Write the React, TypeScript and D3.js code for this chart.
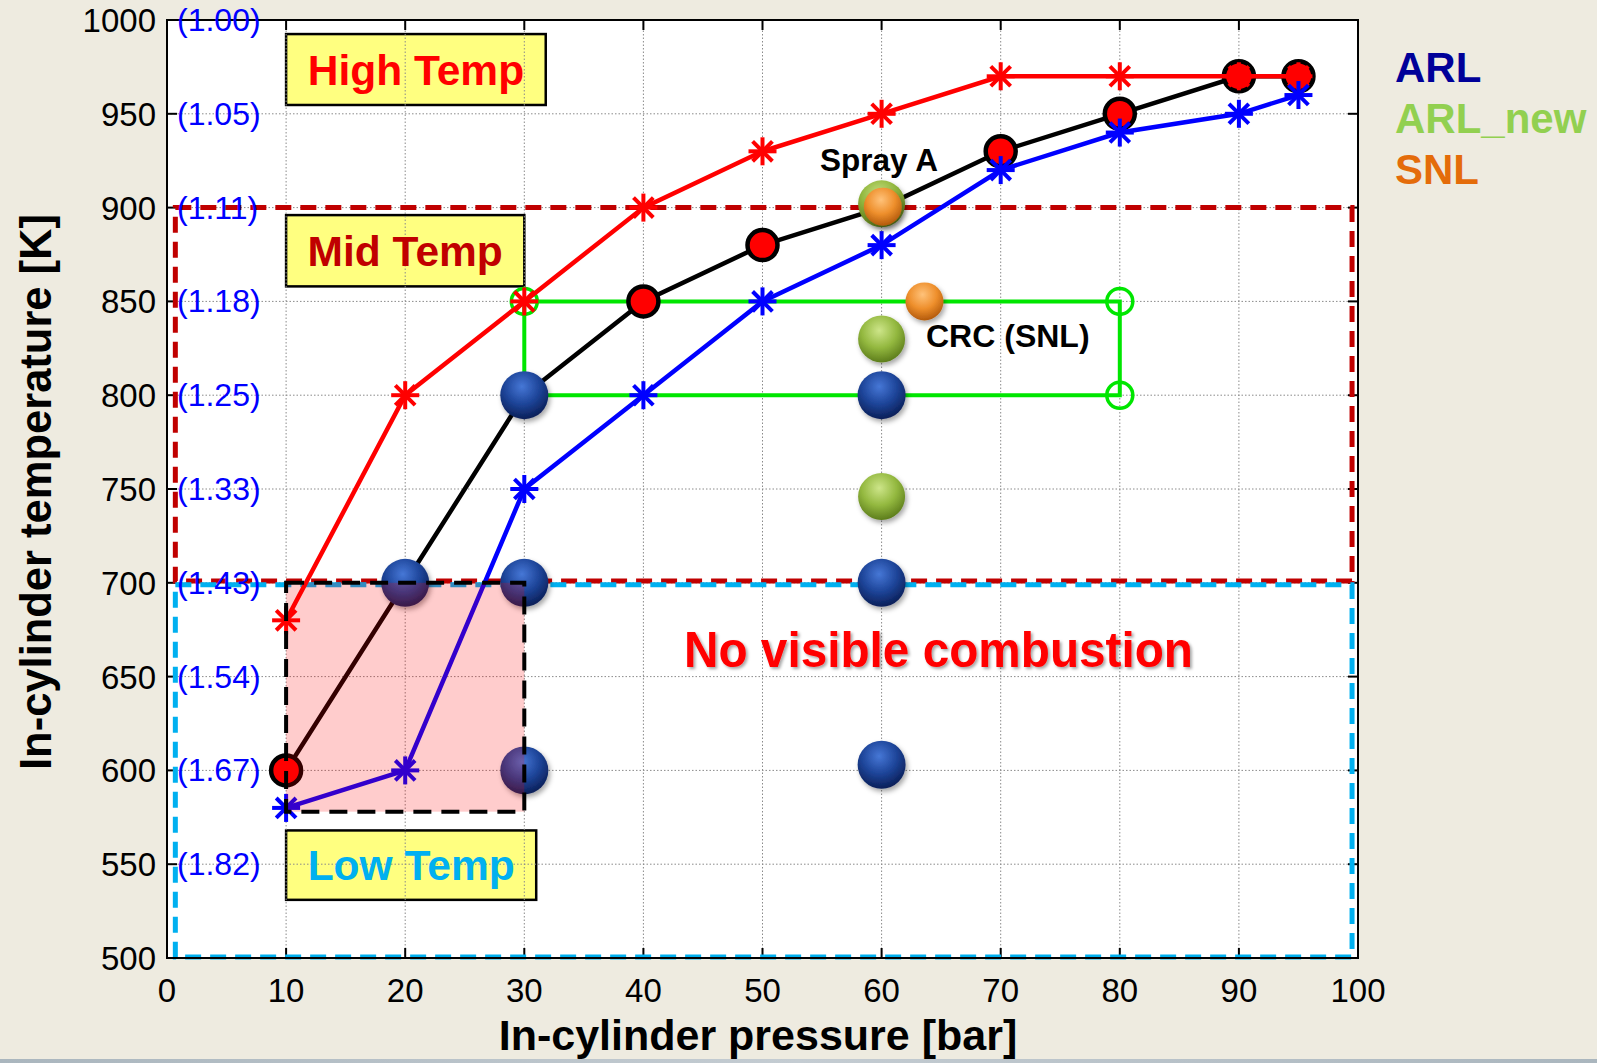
import React from 'react';
import * as d3 from 'd3';

// pressure [bar] for the three ignition-delay curves
const pressures = [10, 20, 30, 40, 50, 60, 70, 80, 90, 95];
const redTemps = [680, 800, 850, 900, 930, 950, 970, 970, 970, 970];
const blackTemps = [600, 700, 800, 850, 880, 900, 930, 950, 970, 970];
const blueTemps = [580, 600, 750, 800, 850, 880, 920, 940, 950, 960];

// measured points (spheres)
const arlPoints = [
  { p: 30, t: 800 }, { p: 60, t: 800 },
  { p: 20, t: 700 }, { p: 30, t: 700 }, { p: 60, t: 700 },
  { p: 30, t: 600 }, { p: 60, t: 603 },
];
const arlNewPoints = [{ p: 60, t: 902 }, { p: 60, t: 830 }, { p: 60, t: 746 }];
const snlPoints = [{ p: 60.1, t: 900.5 }, { p: 63.6, t: 850 }];

// CRC (SNL) range outline
const crcPath = [
  { p: 30, t: 850 }, { p: 80, t: 850 }, { p: 80, t: 800 }, { p: 30, t: 800 }, { p: 30, t: 850 },
];
const crcMarkers = [{ p: 30, t: 850 }, { p: 80, t: 850 }, { p: 80, t: 800 }];

const xTicks = [0, 10, 20, 30, 40, 50, 60, 70, 80, 90, 100];
const yTicks = [500, 550, 600, 650, 700, 750, 800, 850, 900, 950, 1000];
const phiLabels = ['', '(1.82)', '(1.67)', '(1.54)', '(1.43)', '(1.33)', '(1.25)', '(1.18)', '(1.11)', '(1.05)', '(1.00)'];

const regions = [
  { x0: 0.7, x1: 99.5, t0: 701, t1: 900, color: '#c00000' },
  { x0: 0.7, x1: 99.5, t0: 500.5, t1: 699, color: '#00b0f0' },
];

const tagBoxes = [
  { label: 'High Temp', x0: 10, x1: 31.8, t0: 954.7, t1: 992.5, color: '#ff0000' },
  { label: 'Mid Temp', x0: 10, x1: 30, t0: 858, t1: 896, color: '#c00000' },
  { label: 'Low Temp', x0: 10, x1: 31, t0: 531, t1: 568, color: '#00b0f0' },
];

const legendItems = [
  { label: 'ARL', color: '#000099' },
  { label: 'ARL_new', color: '#92d050' },
  { label: 'SNL', color: '#e46c0a' },
];

const W = 1597;
const H = 1063;
const margin = { left: 167, right: 1358, top: 20, bottom: 958 };
const FONT = '"Liberation Sans", Arial, sans-serif';

function Asterisk({ cx, cy, color }: { cx: number; cy: number; color: string }) {
  const r = 14;
  const d = r * Math.SQRT1_2;
  return (
    <g stroke={color} strokeWidth={4}>
      <line x1={cx - r} y1={cy} x2={cx + r} y2={cy} />
      <line x1={cx} y1={cy - r} x2={cx} y2={cy + r} />
      <line x1={cx - d} y1={cy - d} x2={cx + d} y2={cy + d} />
      <line x1={cx - d} y1={cy + d} x2={cx + d} y2={cy - d} />
    </g>
  );
}

export default function App() {
  const x = d3.scaleLinear().domain([0, 100]).range([margin.left, margin.right]);
  const y = d3.scaleLinear().domain([500, 1000]).range([margin.bottom, margin.top]);

  const line = d3.line<number>()
    .x((_, i) => x(pressures[i]))
    .y((d) => y(d));
  const pLine = d3.line<{ p: number; t: number }>()
    .x((d) => x(d.p))
    .y((d) => y(d.t));

  const ball = (d: { p: number; t: number }, r: number, grad: string, key: string) => (
    <circle key={key} cx={x(d.p)} cy={y(d.t)} r={r} fill={`url(#${grad})`} filter="url(#shadow)" />
  );

  return (
    <svg width={W} height={H} style={{ position: 'absolute', left: 0, top: 0, background: '#eeebe0' }}>
      <defs>
        <radialGradient id="gBlue" cx="45%" cy="32%" r="68%">
          <stop offset="0%" stopColor="#4677d6" />
          <stop offset="55%" stopColor="#1d4498" />
          <stop offset="100%" stopColor="#0b1f58" />
        </radialGradient>
        <radialGradient id="gGreen" cx="45%" cy="32%" r="68%">
          <stop offset="0%" stopColor="#cde589" />
          <stop offset="55%" stopColor="#93b83f" />
          <stop offset="100%" stopColor="#5d7d1c" />
        </radialGradient>
        <radialGradient id="gOrange" cx="45%" cy="32%" r="68%">
          <stop offset="0%" stopColor="#ffc27a" />
          <stop offset="55%" stopColor="#ee8f2c" />
          <stop offset="100%" stopColor="#b35a0c" />
        </radialGradient>
        <filter id="shadow" x="-50%" y="-50%" width="200%" height="200%">
          <feDropShadow dx="2" dy="3" stdDeviation="2.5" floodColor="#000" floodOpacity="0.35" />
        </filter>
        <filter id="textShadow" x="-10%" y="-30%" width="120%" height="160%">
          <feDropShadow dx="2" dy="2" stdDeviation="1.5" floodColor="#000" floodOpacity="0.35" />
        </filter>
        <linearGradient id="strip" x1="0" x2="1" y1="0" y2="0">
          <stop offset="0%" stopColor="#aab6be" />
          <stop offset="50%" stopColor="#c4ccd2" />
          <stop offset="100%" stopColor="#aab6be" />
        </linearGradient>
      </defs>

      <rect x={0} y={1059} width={W} height={4} fill="url(#strip)" />

      {/* plot background */}
      <rect x={margin.left} y={margin.top} width={margin.right - margin.left} height={margin.bottom - margin.top} fill="#fff" />

      {/* yellow tag boxes (gridlines show through) */}
      {tagBoxes.map((b) => (
        <rect key={b.label} x={x(b.x0)} y={y(b.t1)} width={x(b.x1) - x(b.x0)} height={y(b.t0) - y(b.t1)}
          fill="#ffff80" stroke="#000" strokeWidth={2.5} />
      ))}

      {/* grid */}
      <g stroke="#8a8a8a" strokeWidth={1} strokeDasharray="1.5 2">
        {xTicks.slice(1, -1).map((t) => (
          <line key={`gx${t}`} x1={x(t)} x2={x(t)} y1={margin.top} y2={margin.bottom} />
        ))}
        {yTicks.slice(1, -1).map((t) => (
          <line key={`gy${t}`} x1={margin.left} x2={margin.right} y1={y(t)} y2={y(t)} />
        ))}
      </g>

      {/* ticks */}
      <g stroke="#000" strokeWidth={2}>
        {xTicks.map((t) => (
          <g key={`tx${t}`}>
            <line x1={x(t)} x2={x(t)} y1={margin.bottom} y2={margin.bottom - 10} />
            <line x1={x(t)} x2={x(t)} y1={margin.top} y2={margin.top + 10} />
          </g>
        ))}
        {yTicks.map((t) => (
          <g key={`ty${t}`}>
            <line x1={margin.left} x2={margin.left + 10} y1={y(t)} y2={y(t)} />
            <line x1={margin.right} x2={margin.right - 10} y1={y(t)} y2={y(t)} />
          </g>
        ))}
      </g>

      {/* temperature regions */}
      {regions.map((r) => (
        <rect key={r.color} x={x(r.x0)} y={y(r.t1)} width={x(r.x1) - x(r.x0)} height={y(r.t0) - y(r.t1)}
          fill="none" stroke={r.color} strokeWidth={5} strokeDasharray="16 9" />
      ))}

      {/* CRC outline */}
      <path d={pLine(crcPath) ?? ''} fill="none" stroke="#00e600" strokeWidth={4} />
      {crcMarkers.map((d, i) => (
        <circle key={`crc${i}`} cx={x(d.p)} cy={y(d.t)} r={13} fill="none" stroke="#00e600" strokeWidth={3.5} />
      ))}

      {/* black curve with red circles */}
      <path d={line(blackTemps) ?? ''} fill="none" stroke="#000" strokeWidth={4.5} />
      {blackTemps.map((t, i) => (
        <circle key={`bc${i}`} cx={x(pressures[i])} cy={y(t)} r={15} fill="#ff0000" stroke="#000" strokeWidth={4.5} />
      ))}

      {/* red curve */}
      <path d={line(redTemps) ?? ''} fill="none" stroke="#ff0000" strokeWidth={4.5} />
      {redTemps.map((t, i) => (
        <Asterisk key={`ra${i}`} cx={x(pressures[i])} cy={y(t)} color="#ff0000" />
      ))}

      {/* blue curve */}
      <path d={line(blueTemps) ?? ''} fill="none" stroke="#0000ff" strokeWidth={4.5} />
      {blueTemps.map((t, i) => (
        <Asterisk key={`ba${i}`} cx={x(pressures[i])} cy={y(t)} color="#0000ff" />
      ))}

      {/* spheres */}
      {arlPoints.map((d, i) => ball(d, 24, 'gBlue', `arl${i}`))}
      {arlNewPoints.map((d, i) => ball(d, 23.5, 'gGreen', `new${i}`))}
      {snlPoints.map((d, i) => ball(d, 19, 'gOrange', `snl${i}`))}

      {/* shaded low-T box */}
      <rect x={x(10)} y={y(700)} width={x(30) - x(10)} height={y(578) - y(700)}
        fill="#ff0000" fillOpacity={0.2} stroke="#000" strokeWidth={4} strokeDasharray="18 10" />

      {/* axis frame */}
      <rect x={margin.left} y={margin.top} width={margin.right - margin.left} height={margin.bottom - margin.top}
        fill="none" stroke="#000" strokeWidth={2} />

      {/* tick labels */}
      <g fontFamily={FONT} fontSize={33} fill="#000">
        {xTicks.map((t) => (
          <text key={`lx${t}`} x={x(t)} y={1002} textAnchor="middle">{t}</text>
        ))}
        {yTicks.map((t) => (
          <text key={`ly${t}`} x={156} y={y(t) + 12} textAnchor="end">{t}</text>
        ))}
      </g>
      <g fontFamily={FONT} fontSize={32} fill="#0000ff">
        {yTicks.map((t, i) => phiLabels[i] ? (
          <text key={`lp${t}`} x={177} y={y(t) + 11}>{phiLabels[i]}</text>
        ) : null)}
      </g>

      {/* tag labels */}
      {tagBoxes.map((b) => (
        <text key={`tl${b.label}`} x={(x(b.x0) + x(b.x1)) / 2} y={(y(b.t0) + y(b.t1)) / 2 + 15}
          textAnchor="middle" fontFamily={FONT} fontWeight="bold" fontSize={42.5} fill={b.color}>{b.label}</text>
      ))}

      <text x={938.5} y={667} textAnchor="middle" fontFamily={FONT} fontWeight="bold" fontSize={50}
        textLength={509} lengthAdjust="spacingAndGlyphs" fill="#ff0000" filter="url(#textShadow)">No visible combustion</text>

      <text x={820} y={171} fontFamily={FONT} fontWeight="bold" fontSize={31.5} fill="#000">Spray A</text>
      <text x={926} y={347} fontFamily={FONT} fontWeight="bold" fontSize={32} fill="#000">CRC (SNL)</text>

      {/* legend */}
      {legendItems.map((l, i) => (
        <text key={l.label} x={1395} y={82 + i * 51} fontFamily={FONT} fontWeight="bold" fontSize={42} fill={l.color}>{l.label}</text>
      ))}

      {/* axis titles */}
      <text x={758} y={1050} textAnchor="middle" fontFamily={FONT} fontWeight="bold" fontSize={43} fill="#000">
        In-cylinder pressure [bar]
      </text>
      <text transform={`translate(51,${492}) rotate(-90)`} textAnchor="middle" fontFamily={FONT} fontWeight="bold"
        fontSize={43.5} fill="#000">In-cylinder temperature [K]</text>
    </svg>
  );
}
